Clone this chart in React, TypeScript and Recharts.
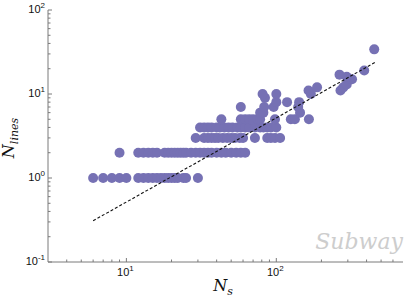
import React from "react";
import { ScatterChart, Scatter, XAxis, YAxis } from "recharts";

// Number of stations (N_s) per network, grouped by number of lines (N_lines)
const row1 = [6, 7, 8, 9, 10, 12, 13, 14, 15, 16, 17, 18, 19, 20, 21, 22, 24, 25, 30];
const row2 = [9, 12, 13, 14, 15, 16, 18, 19, 20, 21, 22, 23, 24, 25, 27, 29, 31, 33, 35, 37, 40, 43, 46, 50, 54, 58, 62];
const row3 = [29, 33, 35, 37, 39, 41, 44, 47, 50, 53, 57, 60, 72, 87, 92, 98, 106];
const row4 = [31, 33, 35, 37, 40, 42, 45, 48, 51, 55, 58, 62, 66, 72, 78, 82, 87, 92, 100];
const row5 = [43, 58, 62, 66, 70, 75, 78, 98, 125, 133, 165];
const row6 = [78, 82, 144];
const row7 = [58, 83, 96, 140];
const row8 = [100, 118, 142];
const row9 = [84];
const row10 = [81, 100, 170];
const row11 = [164, 268];
const row12 = [187, 280];
const row13 = [295];
const row15 = [320];
const row16 = [295];
const row17 = [264];
const row19 = [386];
const row34 = [450];

const rows: [number, number[]][] = [
  [1, row1], [2, row2], [3, row3], [4, row4], [5, row5], [6, row6], [7, row7],
  [8, row8], [9, row9], [10, row10], [11, row11], [12, row12], [13, row13],
  [15, row15], [16, row16], [17, row17], [19, row19], [34, row34],
];

const fitNs = [6, 460];
const fitLines = [0.31, 24];

const xTicks = [4, 5, 6, 7, 8, 9, 10, 20, 30, 40, 50, 60, 70, 80, 90, 100, 200, 300, 400, 500, 600];
const yTicks = [0.1, 0.2, 0.3, 0.4, 0.5, 0.6, 0.7, 0.8, 0.9, 1, 2, 3, 4, 5, 6, 7, 8, 9, 10, 20, 30, 40, 50, 60, 70, 80, 90, 100];

const points = rows.flatMap(([lines, ns]) => ns.map((n) => ({ x: n, y: lines })));
const fit = fitNs.map((n, i) => ({ x: n, y: fitLines[i] }));

const AXIS = "#7a7a7a";
const DOT = "#7671b4";

const exp10 = (v: number) => {
  const e = Math.log10(v);
  return Math.abs(e - Math.round(e)) < 1e-9 ? Math.round(e) : null;
};

const XTick = (props: any) => {
  const { x, y, payload } = props;
  const e = exp10(payload.value);
  return (
    <g>
      <line x1={x} x2={x} y1={y} y2={y - (e !== null ? 4 : 2.5)} stroke={AXIS} strokeWidth={1} />
      {e !== null && (
        <text x={x - 1} y={y + 14} textAnchor="middle" fontFamily="Liberation Sans, Arial, sans-serif" fontSize={11} fill="#111">
          10<tspan dy={-5} fontSize={8}>{e}</tspan>
        </text>
      )}
    </g>
  );
};

const YTick = (props: any) => {
  const { x, y, payload } = props;
  const e = exp10(payload.value);
  return (
    <g>
      <line x1={x} x2={x + (e !== null ? 4 : 2.5)} y1={y} y2={y} stroke={AXIS} strokeWidth={1} />
      {e !== null && (
        <text x={x - 3} y={y + 3} textAnchor="end" fontFamily="Liberation Sans, Arial, sans-serif" fontSize={11} fill="#111">
          10<tspan dy={-5} fontSize={8}>{e}</tspan>
        </text>
      )}
    </g>
  );
};

const Dot = (props: any) => <circle cx={props.cx} cy={props.cy} r={5} fill={DOT} />;
const NoDot = () => <g />;

export default function App() {
  return (
    <div style={{ position: "absolute", left: 0, top: 0, width: 407, height: 302, background: "#fff" }}>
      <ScatterChart width={407} height={302} margin={{ top: 10, right: 4, bottom: 0, left: 0 }}>
        <XAxis
          type="number"
          dataKey="x"
          scale="log"
          domain={[3, 700]}
          ticks={xTicks}
          interval={0}
          tick={<XTick />}
          tickLine={false}
          tickSize={0}
          tickMargin={0}
          height={40}
          axisLine={{ stroke: AXIS, strokeWidth: 1 }}
          allowDataOverflow
        />
        <YAxis
          type="number"
          dataKey="y"
          scale="log"
          domain={[0.1, 100]}
          ticks={yTicks}
          interval={0}
          tick={<YTick />}
          tickLine={false}
          tickSize={0}
          tickMargin={0}
          width={48}
          axisLine={{ stroke: AXIS, strokeWidth: 1 }}
          allowDataOverflow
        />
        <Scatter data={points} shape={<Dot />} isAnimationActive={false} />
        <Scatter
          data={fit}
          shape={<NoDot />}
          line={{ stroke: "#111", strokeWidth: 1.1, strokeDasharray: "3 2" }}
          isAnimationActive={false}
        />
        <text x={223} y={291} textAnchor="middle" fontFamily="DejaVu Serif, serif" fontStyle="italic" fontSize={16} fill="#111">
          N<tspan dy={4} fontSize={11}>s</tspan>
        </text>
        <text
          x={0}
          y={0}
          transform="translate(14,138) rotate(-90)"
          textAnchor="middle"
          fontFamily="DejaVu Serif, serif"
          fontStyle="italic"
          fontSize={16}
          fill="#111"
        >
          N<tspan dy={4} fontSize={11}>lines</tspan>
        </text>
        <text x={403} y={249} textAnchor="end" fontFamily="DejaVu Serif, serif" fontStyle="italic" fontSize={22} fill="#cdcdcd">
          Subway
        </text>
      </ScatterChart>
    </div>
  );
}
